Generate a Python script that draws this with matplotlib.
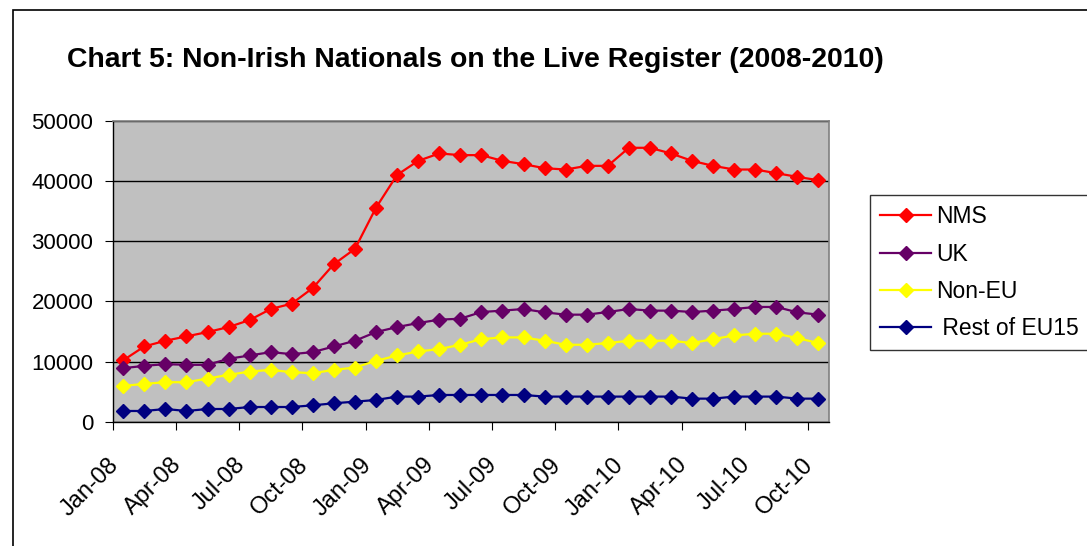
import numpy as np
import matplotlib
matplotlib.use('Agg')
import matplotlib.pyplot as plt
from matplotlib.patches import Rectangle
from matplotlib.transforms import ScaledTranslation

plt.rcParams['font.family'] = ['Liberation Sans', 'DejaVu Sans']

# monthly values, Jan-08 .. Oct-10
nms = [10200, 12500, 13450, 14170, 14890, 15720, 16890, 18720, 19610, 22220,
       26170, 28720, 35560, 41000, 43330, 44560, 44280, 44280, 43330, 42780,
       42110, 41890, 42500, 42500, 45500, 45500, 44560, 43330, 42500, 41890,
       41890, 41280, 40670, 40110]
uk = [8890, 9280, 9560, 9450, 9450, 10450, 11000, 11560, 11220, 11560,
      12500, 13450, 14890, 15720, 16390, 16950, 17110, 18220, 18450, 18720,
      18170, 17780, 17780, 18220, 18720, 18450, 18450, 18220, 18450, 18720,
      19060, 19060, 18170, 17780]
non_eu = [5950, 6280, 6560, 6560, 7170, 7780, 8330, 8610, 8220, 8060,
          8610, 9000, 10110, 11000, 11670, 12060, 12780, 13720, 14000, 14000,
          13450, 12780, 12780, 13060, 13450, 13450, 13450, 13060, 13720, 14330,
          14610, 14610, 13890, 13060]
rest_eu15 = [1780, 1780, 2110, 1780, 2110, 2110, 2440, 2440, 2440, 2720,
             3060, 3330, 3610, 4170, 4170, 4440, 4440, 4440, 4440, 4440,
             4170, 4170, 4170, 4170, 4170, 4170, 4170, 3830, 3830, 4170,
             4170, 4170, 3830, 3830]
tick_labels = ['Jan-08', 'Apr-08', 'Jul-08', 'Oct-08', 'Jan-09', 'Apr-09',
               'Jul-09', 'Oct-09', 'Jan-10', 'Apr-10', 'Jul-10', 'Oct-10']

series = [('NMS', nms, '#FF0000'),
          ('UK', uk, '#660066'),
          ('Non-EU', non_eu, '#FFFF00'),
          (' Rest of EU15', rest_eu15, '#000080')]

W, H = 1087, 546
fig = plt.figure(figsize=(W / 100, H / 100), dpi=100)
fig.patch.set_facecolor('white')

# outer chart border (right/bottom cut off in the original)
fig.patches.append(Rectangle((13 / W, -0.1), 1.2, 1 - 10 / H + 0.1,
                             transform=fig.transFigure, fill=False,
                             edgecolor='black', linewidth=1.2))

ax = fig.add_axes([112.7 / W, 1 - 421.7 / H, (829 - 112.7) / W, (421.7 - 120.7) / H])
ax.set_facecolor('#C0C0C0')

x = np.arange(len(nms))
for name, vals, col in series:
    ax.plot(x, vals, color=col, lw=1.6, marker='D', markersize=7,
            markeredgecolor=col, label=name, zorder=3)

ax.set_xlim(-0.5, len(nms) - 0.5)
ax.set_ylim(0, 50000)
ax.set_yticks(np.arange(0, 50001, 10000))
ax.yaxis.grid(True, color='black', lw=1)
ax.set_axisbelow(True)

ax.set_xticks(np.arange(-0.5, len(nms) - 1, 3))
ax.set_xticklabels([])
ax.set_xticks(np.arange(0, len(nms), 3), minor=True)
ax.set_xticklabels(tick_labels, minor=True, rotation=45, ha='right',
                   rotation_mode='anchor', fontsize=17)
ax.tick_params(axis='x', which='minor', length=0, pad=23)
ax.tick_params(axis='x', which='major', length=6, direction='out', color='black')
ax.tick_params(axis='y', length=6, direction='out', labelsize=16, pad=8)
shift = ScaledTranslation(-16 / 100, 0, fig.dpi_scale_trans)
for lab in ax.get_xticklabels(minor=True):
    lab.set_transform(lab.get_transform() + shift)

for s in ['top', 'right']:
    ax.spines[s].set_color('#808080')
    ax.spines[s].set_linewidth(1.2)
for s in ['left', 'bottom']:
    ax.spines[s].set_color('black')
    ax.spines[s].set_linewidth(1)

fig.text(67 / W, 1 - 60 / H, 'Chart 5: Non-Irish Nationals on the Live Register (2008-2010)',
         fontsize=20.4, fontweight='bold', va='center', ha='left')

leg = fig.legend(loc='upper left', bbox_to_anchor=(870 / W, 1 - 195 / H),
                 fontsize=16.5, frameon=True, fancybox=False, edgecolor='black',
                 borderpad=0.45, labelspacing=0.62, handlelength=2.2,
                 handletextpad=0.25, borderaxespad=0)
leg.get_frame().set_linewidth(1)

fig.savefig('out.png', dpi=100)
